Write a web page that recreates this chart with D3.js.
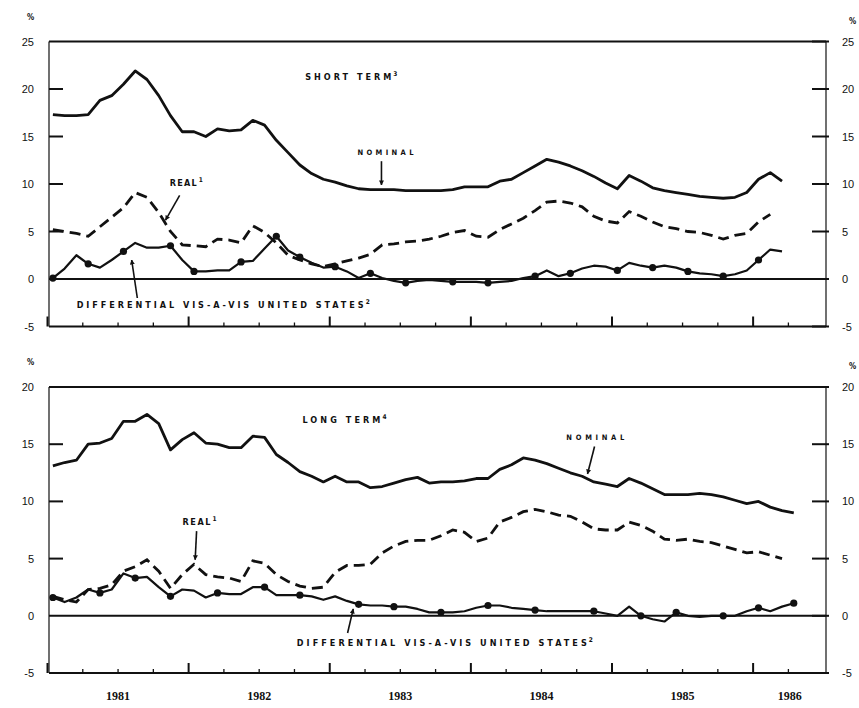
<!DOCTYPE html>
<html>
<head>
<meta charset="utf-8">
<script src="https://cdn.jsdelivr.net/npm/d3@7"></script>
<style>
  body { margin: 0; background: #fff; }
  svg { display: block; font-family: "DejaVu Sans Condensed", "Liberation Sans", sans-serif; }
  .note { font-size: 9px; font-weight: bold; fill: #111; }
  .sup { font-size: 6.5px; font-weight: bold; fill: #111; }
  .ylab text { font-size: 11px; fill: #111; }
  .years text { font-family: "Liberation Serif", serif; font-weight: bold; font-size: 12px; fill: #111; }
</style>
</head>
<body>
<svg id="chart" width="859" height="708"></svg>
<script>
// monthly observations, Jan 1981 onwards
const startYear = 1981;
const years = ["1981", "1982", "1983", "1984", "1985", "1986"];

const shortNominal = [
  17.3, 17.2, 17.2, 17.3, 18.8, 19.3, 20.5, 21.9, 21.0, 19.3, 17.2, 15.5,
  15.5, 15.0, 15.8, 15.6, 15.7, 16.7, 16.2, 14.6, 13.3, 12.0, 11.1, 10.5,
  10.2, 9.8, 9.5, 9.4, 9.4, 9.4, 9.3, 9.3, 9.3, 9.3, 9.4, 9.7,
  9.7, 9.7, 10.3, 10.5, 11.2, 11.9, 12.6, 12.3, 11.9, 11.4, 10.8, 10.1,
  9.5, 10.9, 10.3, 9.6, 9.3, 9.1, 8.9, 8.7, 8.6, 8.5, 8.6, 9.1,
  10.5, 11.2, 10.3
];
const shortReal = [
  5.2, 5.0, 4.8, 4.5, 5.5, 6.5, 7.5, 9.1, 8.6, 7.0, 5.0, 3.6,
  3.5, 3.4, 4.2, 4.1, 3.8, 5.6, 4.9, 3.8, 2.5, 2.0, 1.6, 1.3,
  1.6, 1.9, 2.2, 2.6, 3.6, 3.7, 3.9, 4.0, 4.2, 4.5, 4.9, 5.1,
  4.5, 4.4, 5.2, 5.8, 6.4, 7.2, 8.1, 8.2, 8.0, 7.6, 6.6, 6.1,
  5.9, 7.1, 6.6, 6.0, 5.5, 5.3, 5.0, 4.9, 4.6, 4.2, 4.6, 4.8,
  6.0, 6.8
];
const shortDiff = [
  0.1, 1.1, 2.5, 1.6, 1.2, 2.0, 2.9, 3.8, 3.3, 3.3, 3.5, 2.0,
  0.8, 0.8, 0.9, 0.9, 1.8, 1.9, 3.2, 4.5, 3.0, 2.3, 1.7, 1.2,
  1.3, 0.8, 0.1, 0.6, 0.1, -0.2, -0.4, -0.2, -0.1, -0.2, -0.3, -0.3,
  -0.3, -0.4, -0.3, -0.2, 0.1, 0.3, 0.9, 0.3, 0.6, 1.1, 1.4, 1.3,
  0.9, 1.7, 1.4, 1.2, 1.4, 1.2, 0.8, 0.6, 0.5, 0.3, 0.5, 0.9,
  2.0, 3.1, 2.9
];
const shortMarks = [0, 3, 6, 10, 12, 16, 19, 21, 24, 27, 30, 34, 37, 41, 44, 48, 51, 54, 57, 60];

const longNominal = [
  13.1, 13.4, 13.6, 15.0, 15.1, 15.5, 17.0, 17.0, 17.6, 16.8, 14.5, 15.4,
  16.0, 15.1, 15.0, 14.7, 14.7, 15.7, 15.6, 14.1, 13.4, 12.6, 12.2, 11.7,
  12.2, 11.7, 11.7, 11.2, 11.3, 11.6, 11.9, 12.1, 11.6, 11.7, 11.7, 11.8,
  12.0, 12.0, 12.8, 13.2, 13.8, 13.6, 13.3, 12.9, 12.5, 12.2, 11.7, 11.5,
  11.3, 12.0, 11.6, 11.1, 10.6, 10.6, 10.6, 10.7, 10.6, 10.4, 10.1, 9.8,
  10.0, 9.5, 9.2, 9.0
];
const longReal = [
  1.7, 1.4, 1.2, 2.3, 2.4, 2.7, 3.9, 4.3, 4.9, 3.9, 2.4, 3.6,
  4.5, 3.6, 3.4, 3.3, 3.0, 4.8, 4.6, 3.6, 3.0, 2.6, 2.4, 2.5,
  3.8, 4.4, 4.4, 4.5, 5.5, 6.1, 6.5, 6.6, 6.6, 7.0, 7.5, 7.3,
  6.5, 6.8, 8.2, 8.6, 9.1, 9.3, 9.1, 8.8, 8.7, 8.2, 7.6, 7.5,
  7.5, 8.2, 7.9, 7.4, 6.7, 6.6, 6.7, 6.5, 6.4, 6.1, 5.8, 5.5,
  5.6, 5.3, 5.0
];
const longDiff = [
  1.6, 1.2, 1.6, 2.3, 2.0, 2.3, 3.7, 3.3, 3.4, 2.5, 1.7, 2.3,
  2.2, 1.6, 2.0, 1.9, 1.9, 2.5, 2.5, 1.8, 1.8, 1.8, 1.7, 1.4,
  1.7, 1.3, 1.0, 0.9, 0.9, 0.8, 0.8, 0.6, 0.3, 0.3, 0.3, 0.4,
  0.7, 0.9, 0.9, 0.7, 0.6, 0.5, 0.4, 0.4, 0.4, 0.4, 0.4, 0.2,
  0.0, 0.8, 0.0, -0.3, -0.5, 0.3, 0.0, -0.1, 0.0, 0.0, 0.0, 0.4,
  0.7, 0.4, 0.8, 1.1
];
const longMarks = [0, 4, 7, 10, 14, 18, 21, 26, 29, 33, 37, 41, 46, 50, 53, 57, 60, 63];

const svg = d3.select("#chart");
const xL = 49, xR = 826;
const x = d3.scaleLinear().domain([1981, 1986.52]).range([47, 826]);
const monthX = (d, i) => x(startYear + (i + 0.5) / 12);

svg.append("defs").append("marker")
  .attr("id", "arr").attr("viewBox", "0 0 10 10")
  .attr("refX", 9).attr("refY", 5)
  .attr("markerWidth", 5).attr("markerHeight", 5)
  .attr("markerUnits", "userSpaceOnUse")
  .attr("orient", "auto")
  .append("path").attr("d", "M0,0L10,5L0,10z").attr("fill", "#111");

function drawPanel(p) {
  const y = d3.scaleLinear().domain([-5, p.max]).range([p.bottom, p.top]);
  const g = svg.append("g");
  const vals = d3.range(-5, p.max + 1, 5);

  // frame
  g.append("line").attr("x1", xL).attr("x2", xR).attr("y1", y(p.max)).attr("y2", y(p.max))
    .attr("stroke", "#111").attr("stroke-width", 2);
  g.append("line").attr("x1", xL).attr("x2", xL).attr("y1", y(p.max)).attr("y2", y(-5))
    .attr("stroke", "#111").attr("stroke-width", 1.2);
  g.append("line").attr("x1", xR).attr("x2", xR).attr("y1", y(p.max)).attr("y2", y(-5))
    .attr("stroke", "#111").attr("stroke-width", 1.2);
  g.append("line").attr("x1", xL).attr("x2", xR).attr("y1", y(0)).attr("y2", y(0))
    .attr("stroke", "#111").attr("stroke-width", 2);

  // value ticks on both sides
  const inner = vals.filter(v => v > -5 && v < p.max && v !== 0);
  g.selectAll(".tl").data(inner).join("line")
    .attr("x1", xL).attr("x2", xL + 14).attr("y1", d => y(d)).attr("y2", d => y(d))
    .attr("stroke", "#111").attr("stroke-width", 2);
  g.selectAll(".tr").data(vals).join("line")
    .attr("x1", xR - 14).attr("x2", xR + 3).attr("y1", d => y(d)).attr("y2", d => y(d))
    .attr("stroke", "#111").attr("stroke-width", 2);

  // bottom time axis, ticks pointing up
  const quarters = d3.range(startYear, 1986.5, 0.25);
  const ax = g.append("g").attr("transform", `translate(0,${y(-5)})`)
    .call(d3.axisTop(x).tickValues(quarters).tickSizeOuter(0).tickFormat(""));
  ax.select(".domain").attr("stroke-width", 2).attr("stroke", "#111");
  ax.selectAll(".tick line")
    .attr("y2", d => Number.isInteger(d) ? -10 : -4)
    .attr("stroke-width", d => Number.isInteger(d) ? 2 : 1.3).attr("stroke", "#111");
  ax.select(".domain").attr("d", `M${xL},0H${xR}`);

  // value labels
  const fmt = d => d < 0 ? "-" + Math.abs(d) : String(d);
  const la = g.append("g").attr("class", "ylab").attr("transform", "translate(34,0)")
    .call(d3.axisLeft(y).tickValues(vals).tickSize(0).tickPadding(0).tickFormat(fmt));
  la.select(".domain").remove();
  const ra = g.append("g").attr("class", "ylab").attr("transform", "translate(842,0)")
    .call(d3.axisRight(y).tickValues(vals).tickSize(0).tickPadding(0).tickFormat(fmt));
  ra.select(".domain").remove();
  g.append("text").attr("x", 27).attr("y", p.top - 22).attr("class", "sup").style("font-size", "8px").text("%");
  g.append("text").attr("x", 849).attr("y", p.top - 18).attr("class", "sup").style("font-size", "8px").text("%");

  // series
  const line = d3.line().x(monthX).y(d => y(d));
  g.append("path").datum(p.nominal).attr("d", line)
    .attr("fill", "none").attr("stroke", "#111").attr("stroke-width", 2.8).attr("stroke-linejoin", "round");
  g.append("path").datum(p.real).attr("d", line)
    .attr("fill", "none").attr("stroke", "#111").attr("stroke-width", 2.8)
    .attr("stroke-dasharray", "11,6");
  g.append("path").datum(p.diff).attr("d", line)
    .attr("fill", "none").attr("stroke", "#111").attr("stroke-width", 2.2).attr("stroke-linejoin", "round");
  g.selectAll(".dot").data(p.marks).join("circle")
    .attr("cx", i => monthX(null, i)).attr("cy", i => y(p.diff[i])).attr("r", 3.6).attr("fill", "#111");

  // labels and arrows
  p.notes.forEach(n => {
    const t = g.append("text").attr("class", "note")
      .attr("x", x(n.x)).attr("y", y(n.y))
      .attr("textLength", n.w).attr("lengthAdjust", "spacing")
      .text(n.text);
    if (n.size) t.style("font-size", n.size + "px");
    if (n.sup) g.append("text").attr("class", "sup")
      .attr("x", x(n.x) + n.w + 2).attr("y", y(n.y) - 4).text(n.sup);
  });
  p.arrows.forEach(a => {
    g.append("line")
      .attr("x1", x(a[0])).attr("y1", y(a[1])).attr("x2", x(a[2])).attr("y2", y(a[3]))
      .attr("stroke", "#111").attr("stroke-width", 1.6).attr("marker-end", "url(#arr)");
  });
  return y;
}

drawPanel({
  top: 41.5, bottom: 326.5, max: 25,
  nominal: shortNominal, real: shortReal, diff: shortDiff, marks: shortMarks,
  notes: [
    { text: "SHORT TERM", sup: "3", x: 1982.83, y: 20.9, w: 86 },
    { text: "NOMINAL", x: 1983.2, y: 13.05, w: 56, size: 7.5 },
    { text: "REAL", sup: "1", x: 1981.87, y: 9.8, w: 27 },
    { text: "DIFFERENTIAL VIS-A-VIS UNITED STATES", sup: "2", x: 1981.21, y: -3.05, w: 287 }
  ],
  arrows: [
    [1983.37, 12.4, 1983.37, 9.9],
    [1981.94, 8.8, 1981.84, 6.2],
    [1981.64, -2.0, 1981.6, 2.0]
  ]
});

const yLong = drawPanel({
  top: 387, bottom: 673, max: 20,
  nominal: longNominal, real: longReal, diff: longDiff, marks: longMarks,
  notes: [
    { text: "LONG TERM", sup: "4", x: 1982.81, y: 16.86, w: 78 },
    { text: "REAL", sup: "1", x: 1981.96, y: 7.95, w: 28 },
    { text: "NOMINAL", x: 1984.68, y: 15.4, w: 58, size: 7.5 },
    { text: "DIFFERENTIAL VIS-A-VIS UNITED STATES", sup: "2", x: 1982.77, y: -2.6, w: 290 }
  ],
  arrows: [
    [1982.06, 7.4, 1982.05, 4.9],
    [1984.88, 14.8, 1984.83, 12.4],
    [1983.13, -1.5, 1983.17, 0.6]
  ]
});

// year labels, centred on the visible part of each year
const dom = x.domain();
const yearMid = years.map(s => (Math.max(+s, dom[0]) + Math.min(+s + 1, dom[1])) / 2);
const ya = svg.append("g").attr("class", "years").attr("transform", `translate(0,${yLong(-5)})`)
  .call(d3.axisBottom(x).tickValues(yearMid).tickSize(0).tickPadding(18).tickFormat((d, i) => years[i]));
ya.select(".domain").remove();
</script>
</body>
</html>
